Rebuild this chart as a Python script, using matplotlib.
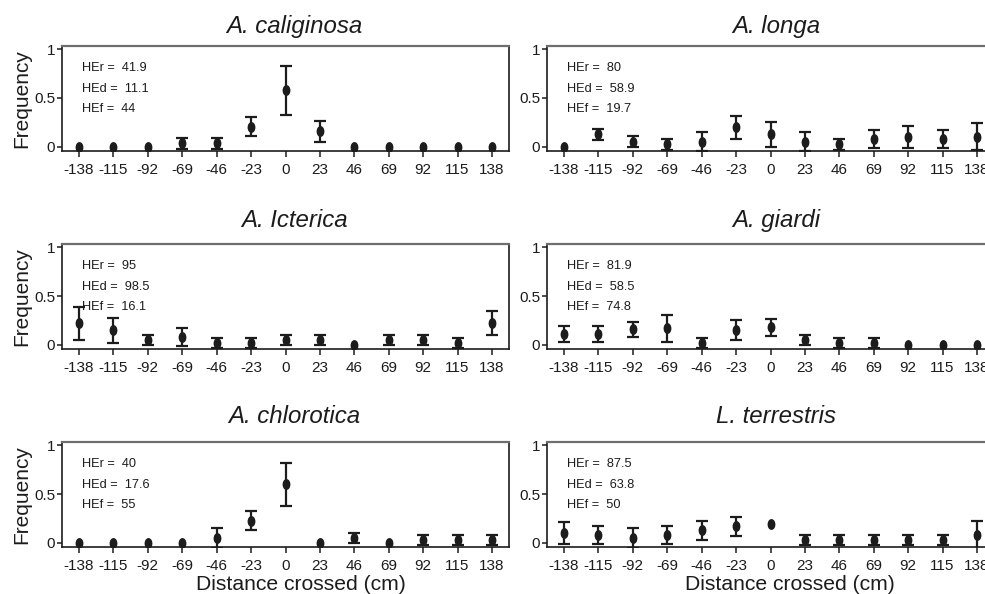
import numpy as np
import matplotlib
matplotlib.use("Agg")
import matplotlib.pyplot as plt
from matplotlib.path import Path
from matplotlib.transforms import Affine2D
from matplotlib import font_manager

distances = [-138, -115, -92, -69, -46, -23, 0, 23, 46, 69, 92, 115, 138]

species = ["A. caliginosa", "A. longa", "A. Icterica", "A. giardi",
           "A. chlorotica", "L. terrestris"]

he_r = ["41.9", "80", "95", "81.9", "40", "87.5"]
he_d = ["11.1", "58.9", "98.5", "58.5", "17.6", "63.8"]
he_f = ["44", "19.7", "16.1", "74.8", "55", "50"]

mean_caliginosa = [0, 0, 0, 0.034, 0.034, 0.205, 0.577, 0.16, 0, 0, 0, 0, 0]
err_caliginosa = [0, 0, 0, 0.056, 0.056, 0.095, 0.25, 0.108, 0, 0, 0, 0, 0]

mean_longa = [0, 0.126, 0.051, 0.024, 0.051, 0.198, 0.126, 0.051, 0.024, 0.078, 0.102, 0.078, 0.102]
err_longa = [0, 0.053, 0.058, 0.054, 0.1, 0.116, 0.126, 0.1, 0.054, 0.095, 0.112, 0.095, 0.14]

mean_icterica = [0.223, 0.151, 0.051, 0.079, 0.024, 0.024, 0.051, 0.051, 0, 0.051, 0.051, 0.024, 0.223]
err_icterica = [0.171, 0.13, 0.056, 0.094, 0.051, 0.051, 0.056, 0.056, 0, 0.056, 0.056, 0.051, 0.125]

mean_giardi = [0.11, 0.11, 0.161, 0.171, 0.024, 0.151, 0.181, 0.051, 0.024, 0.024, 0, 0, 0]
err_giardi = [0.084, 0.084, 0.075, 0.137, 0.051, 0.1, 0.09, 0.056, 0.051, 0.051, 0, 0, 0]

mean_chlorotica = [0, 0, 0, 0, 0.051, 0.229, 0.599, 0, 0.051, 0, 0.027, 0.027, 0.027]
err_chlorotica = [0, 0, 0, 0, 0.1, 0.096, 0.218, 0, 0.055, 0, 0.05, 0.05, 0.05]

mean_terrestris = [0.103, 0.079, 0.051, 0.079, 0.13, 0.171, 0.199, 0.027, 0.027, 0.027, 0.027, 0.027, 0.079]
err_terrestris = [0.115, 0.094, 0.1, 0.094, 0.096, 0.095, 0, 0.05, 0.05, 0.05, 0.05, 0.05, 0.144]

means = [mean_caliginosa, mean_longa, mean_icterica, mean_giardi, mean_chlorotica, mean_terrestris]
errs = [err_caliginosa, err_longa, err_icterica, err_giardi, err_chlorotica, err_terrestris]

y_ticks = [0, 0.5, 1]
y_ticklabels = ["0", "0.5", "1"]

names = {f.name for f in font_manager.fontManager.ttflist}
narrow = "Liberation Sans Narrow" if "Liberation Sans Narrow" in names else "Liberation Sans"
regular = "Liberation Sans"
tick_fs = 12.5 if narrow == "Liberation Sans Narrow" else 11
he_fs = 10 if narrow == "Liberation Sans Narrow" else 9.2

W, H = 985, 594
fig = plt.figure(figsize=(W / 100, H / 100), dpi=100)

col_left = [62, 547]
ax_w = 447
row_top = [46, 244.3, 442.3]
ax_h = 104.7

ink = "#1c1c1c"
ell = Path.unit_circle().transformed(Affine2D().scale(0.68, 1.0))

for i, name in enumerate(species):
    r, c = divmod(i, 2)
    ax = fig.add_axes([col_left[c] / W, 1 - (row_top[r] + ax_h) / H, ax_w / W, ax_h / H])
    x = np.array(distances, dtype=float)
    m = np.array(means[i])
    e = np.array(errs[i])
    has = e > 0
    ax.errorbar(x[has], m[has], yerr=e[has], fmt="none", ecolor=ink,
                elinewidth=1.6, capsize=4.2, capthick=1.6, zorder=2)
    ax.plot(x, m, linestyle="none", marker=ell, markersize=6.8,
            color=ink, zorder=3)
    ax.set_xlim(-149.4, 149.4)
    ax.set_ylim(-0.041, 1.031)
    ax.set_xticks(distances)
    ax.set_xticklabels([str(d) for d in distances], fontfamily=narrow, fontsize=tick_fs)
    ax.set_yticks(y_ticks)
    ax.set_yticklabels(y_ticklabels, fontfamily=narrow, fontsize=tick_fs)
    ax.tick_params(axis="x", length=4, width=1.1, color=ink, pad=5, labelcolor=ink)
    ax.tick_params(axis="y", length=3.5, width=1.1, color=ink, pad=1.5, labelcolor=ink)
    for s in ["left", "bottom", "right"]:
        ax.spines[s].set_color(ink)
        ax.spines[s].set_linewidth(1.2)
    ax.spines["top"].set_color("#6e6e6e")
    ax.spines["top"].set_linewidth(1.6)
    txt = [f"HEr =  {he_r[i]}", f"HEd =  {he_d[i]}", f"HEf =  {he_f[i]}"]
    for k, t in enumerate(txt):
        ax.text(20 / ax_w, 1 - (22 + 20.5 * k) / ax_h, t, transform=ax.transAxes,
                fontfamily=narrow, fontsize=he_fs, color=ink, va="center", ha="left")
    if c == 0:
        ax.set_ylabel("Frequency", fontfamily=regular, fontsize=15, color=ink, labelpad=2)
    title_x = [294, 776][c]
    title_base = [33, 227, 423][r]
    fig.text(title_x / W, 1 - title_base / H, name, fontfamily=regular, style="italic",
             fontsize=17.3, color=ink, ha="center", va="baseline")
    if r == 2:
        fig.text([301, 790][c] / W, 1 - 590 / H, "Distance crossed (cm)",
                 fontfamily=regular, fontsize=15.2, color=ink, ha="center", va="baseline")

fig.savefig("out.png", dpi=100)
